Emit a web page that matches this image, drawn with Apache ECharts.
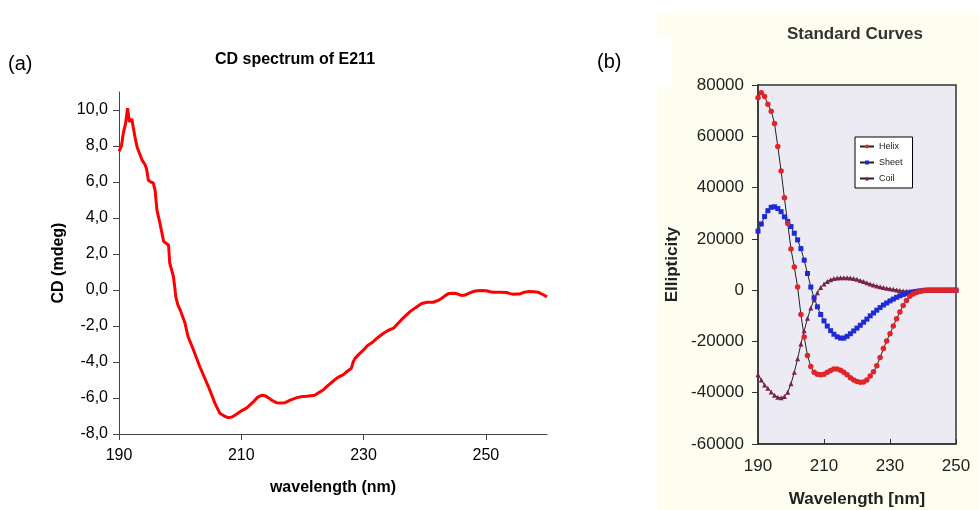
<!DOCTYPE html>
<html>
<head>
<meta charset="utf-8">
<script src="https://cdn.jsdelivr.net/npm/echarts@6/dist/echarts.min.js"></script>
<style>
html,body{margin:0;padding:0;background:#fff;}
#chart{width:979px;height:510px;}
</style>
</head>
<body>
<div id="chart"></div>
<script>
// ---- Panel (a): CD spectrum of E211 ----
const cdWavelength = [190.0,190.4,190.7,191.1,191.4,191.7,192.1,192.3,192.7,193.0,193.3,193.8,194.2,194.5,194.8,195.2,195.6,195.9,196.2,196.7,197.3,197.7,198.1,198.3,198.9,199.1,199.3,199.6,200.0,200.8,201.3,202.2,203.2,204.6,205.7,206.5,207.2,207.9,208.5,209.2,210.1,210.9,212.0,212.7,213.3,213.9,214.4,215.1,215.8,216.5,217.1,218.0,219.1,220.0,220.7,222.0,222.7,223.4,224.2,225.0,225.8,226.7,227.4,228.0,228.3,228.6,229.3,230.0,230.6,231.3,232.3,233.2,234.0,234.9,235.5,236.2,236.9,237.6,238.5,239.5,240.4,241.4,242.2,242.8,243.4,243.9,244.6,245.2,246.0,246.6,247.1,247.8,248.5,249.3,250.1,250.7,251.2,252.3,253.4,254.0,254.5,255.0,255.6,256.3,256.9,257.8,258.6,259.3,260.0];
const cdMdeg = [7.7,8.0,8.7,9.3,10.1,9.35,9.5,9.1,8.35,7.9,8.0,7.2,7.0,6.75,6.1,6.0,5.95,5.55,4.45,3.7,2.7,2.6,2.5,1.5,0.75,0.2,-0.4,-0.8,-1.1,-1.85,-2.6,-3.35,-4.25,-5.35,-6.3,-6.85,-7.0,-7.1,-7.05,-6.9,-6.7,-6.55,-6.2,-5.95,-5.85,-5.88,-5.98,-6.15,-6.27,-6.28,-6.27,-6.12,-5.98,-5.92,-5.9,-5.85,-5.7,-5.55,-5.3,-5.07,-4.85,-4.7,-4.5,-4.35,-4.0,-3.8,-3.55,-3.33,-3.1,-2.95,-2.65,-2.42,-2.25,-2.12,-1.9,-1.65,-1.42,-1.2,-0.98,-0.75,-0.68,-0.68,-0.58,-0.46,-0.3,-0.2,-0.18,-0.2,-0.3,-0.28,-0.2,-0.1,-0.04,-0.03,-0.04,-0.1,-0.13,-0.13,-0.14,-0.2,-0.24,-0.22,-0.22,-0.12,-0.09,-0.1,-0.13,-0.25,-0.38];
const cdXTicks = [190,210,230,250];
const cdYTicks = [-8,-6,-4,-2,0,2,4,6,8,10];

// ---- Panel (b): Standard Curves ----
const stdWavelength = [190,191,192,193,194,195,196,197,198,199,200,201,202,203,204,205,206,207,208,209,210,211,212,213,214,215,216,217,218,219,220,221,222,223,224,225,226,227,228,229,230,231,232,233,234,235,236,237,238,239,240,241,242,243,244,245,246,247,248,249,250];
const helix = [75000,77000,75500,72500,69800,65000,56000,46500,36000,26000,16000,9000,1200,-9500,-18300,-25500,-29800,-32000,-32800,-33000,-32800,-32000,-31300,-30800,-30800,-31200,-32000,-33000,-34200,-35000,-35600,-35900,-35800,-35000,-33500,-31800,-29500,-26300,-22800,-19800,-17000,-14000,-11200,-8500,-6000,-4000,-2400,-1500,-900,-500,-200,-100,0,0,0,0,0,0,0,0,0];
const sheet = [23000,25800,28700,31000,32300,32500,31800,30600,28600,26800,24800,22200,19600,16200,11700,6500,1200,-3000,-6500,-9500,-12000,-14000,-15800,-17200,-18200,-18700,-18700,-18000,-17000,-15900,-14800,-13700,-12500,-11300,-10000,-8900,-7800,-6800,-5800,-5000,-4200,-3500,-2800,-2200,-1700,-1300,-1000,-700,-500,-300,-100,0,0,0,0,0,0,0,0,0,0];
const coil = [-33000,-35000,-37000,-38300,-39700,-41000,-41800,-42000,-41500,-39800,-36500,-32000,-26800,-21000,-15800,-11000,-7000,-3700,-1000,1000,2400,3400,4100,4500,4700,4800,4800,4800,4700,4500,4200,3800,3400,2900,2400,2000,1600,1300,1000,700,500,300,100,-100,-300,-400,-400,-400,-300,-200,-100,0,0,0,0,0,0,0,0,0,0];
const stdXTicks = [190,210,230,250];
const seriesNames = ['Helix','Sheet','Coil'];

const FONT = '"Liberation Sans", Arial, sans-serif';
const zip = (xs, ys) => xs.map((x, i) => [x, ys[i]]);

const chart = echarts.init(document.getElementById('chart'), null, {renderer: 'canvas'});

const option = {
  animation: false,
  backgroundColor: '#ffffff',
  textStyle: {fontFamily: FONT},
  graphic: {
    elements: [
      {type: 'rect', z: -20, silent: true, shape: {x: 657, y: 14, width: 322, height: 496}, style: {fill: '#fdfdf0'}},
      {type: 'rect', z: -19, silent: true, shape: {x: 590, y: 38, width: 82, height: 49}, style: {fill: '#ffffff'}},
      {type: 'text', left: 8, top: 54, style: {text: '(a)', font: '20px ' + FONT, fill: '#000'}},
      {type: 'text', left: 597, top: 52, style: {text: '(b)', font: '20px ' + FONT, fill: '#000'}}
    ]
  },
  title: [
    {text: 'CD spectrum of E211', left: 295, top: 52, textAlign: 'center', padding: 0,
     textStyle: {fontFamily: FONT, fontSize: 16, fontWeight: 'bold', color: '#000'}},
    {text: 'Standard Curves', left: 855, top: 26, textAlign: 'center', padding: 0,
     textStyle: {fontFamily: FONT, fontSize: 17, fontWeight: 'bold', color: '#333'}}
  ],
  legend: {
    data: seriesNames,
    orient: 'vertical',
    left: 855, top: 137,
    padding: [5, 10, 5, 4],
    itemGap: 7,
    itemWidth: 14,
    itemHeight: 5,
    backgroundColor: '#ffffff',
    borderColor: '#000',
    borderWidth: 1,
    borderRadius: 0,
    textStyle: {fontFamily: FONT, fontSize: 9, color: '#222'}
  },
  grid: [
    {left: 119, top: 92, width: 428, height: 342, outerBoundsMode: 'none', containLabel: false},
    {left: 758, top: 85, width: 198, height: 359, outerBoundsMode: 'none', containLabel: false,
     show: true, backgroundColor: '#ecebf3', borderColor: '#333', borderWidth: 1.5}
  ],
  xAxis: [
    {gridIndex: 0, type: 'value', min: 190, max: 260,
     name: 'wavelength (nm)', nameLocation: 'middle', nameGap: 46,
     nameTextStyle: {fontFamily: FONT, fontSize: 16, fontWeight: 'bold', color: '#000'},
     axisLine: {show: true, onZero: false, lineStyle: {color: '#444', width: 1}},
     axisTick: {show: true, inside: false, length: 6, customValues: cdXTicks, lineStyle: {color: '#444'}},
     axisLabel: {show: true, customValues: cdXTicks, margin: 14, fontFamily: FONT, fontSize: 16, color: '#000',
       formatter: v => String(v)},
     splitLine: {show: false}},
    {gridIndex: 1, type: 'value', min: 190, max: 250,
     name: 'Wavelength [nm]', nameLocation: 'middle', nameGap: 47,
     nameTextStyle: {fontFamily: FONT, fontSize: 17, fontWeight: 'bold', color: '#222'},
     axisLine: {show: true, onZero: false, lineStyle: {color: '#333', width: 1.5}},
     axisTick: {show: true, inside: true, length: 5, customValues: stdXTicks, lineStyle: {color: '#333'}},
     axisLabel: {show: true, customValues: stdXTicks, margin: 14, fontFamily: FONT, fontSize: 17, color: '#222',
       formatter: v => String(v)},
     splitLine: {show: false}}
  ],
  yAxis: [
    {gridIndex: 0, type: 'value', min: -8, max: 11,
     name: 'CD (mdeg)', nameLocation: 'middle', nameGap: 52, nameRotate: 90,
     nameTextStyle: {fontFamily: FONT, fontSize: 16, fontWeight: 'bold', color: '#000'},
     axisLine: {show: true, onZero: false, lineStyle: {color: '#444', width: 1}},
     axisTick: {show: true, inside: false, length: 6, customValues: cdYTicks, lineStyle: {color: '#444'}},
     axisLabel: {show: true, customValues: cdYTicks, margin: 11, fontFamily: FONT, fontSize: 16, color: '#000',
       formatter: v => v.toFixed(1).replace('.', ',')},
     splitLine: {show: false}},
    {gridIndex: 1, type: 'value', min: -60000, max: 80000, interval: 20000,
     name: 'Ellipticity', nameLocation: 'middle', nameGap: 77, nameRotate: 90,
     nameTextStyle: {fontFamily: FONT, fontSize: 17, fontWeight: 'bold', color: '#222'},
     axisLine: {show: true, onZero: false, lineStyle: {color: '#333', width: 1.5}},
     axisTick: {show: true, inside: false, length: 6, lineStyle: {color: '#333'}},
     axisLabel: {show: true, margin: 14, fontFamily: FONT, fontSize: 17, color: '#222',
       formatter: v => String(v)},
     splitLine: {show: false}}
  ],
  series: [
    {name: 'CD', type: 'line', xAxisIndex: 0, yAxisIndex: 0, data: zip(cdWavelength, cdMdeg),
     showSymbol: false, symbol: 'none', smooth: false,
     lineStyle: {color: '#ff0000', width: 3}, itemStyle: {color: '#ff0000'},
     emphasis: {disabled: true}, silent: true},
    {name: 'Coil', type: 'line', xAxisIndex: 1, yAxisIndex: 1, data: zip(stdWavelength, coil),
     symbol: 'triangle', symbolSize: 5, showSymbol: true,
     lineStyle: {color: '#222', width: 1}, itemStyle: {color: '#7a2245'},
     emphasis: {disabled: true}, silent: true},
    {name: 'Sheet', type: 'line', xAxisIndex: 1, yAxisIndex: 1, data: zip(stdWavelength, sheet),
     symbol: 'rect', symbolSize: 5, showSymbol: true,
     lineStyle: {color: '#222', width: 1}, itemStyle: {color: '#1f2ad6'},
     emphasis: {disabled: true}, silent: true},
    {name: 'Helix', type: 'line', xAxisIndex: 1, yAxisIndex: 1, data: zip(stdWavelength, helix),
     symbol: 'circle', symbolSize: 5.5, showSymbol: true,
     lineStyle: {color: '#222', width: 1}, itemStyle: {color: '#e0242a'},
     emphasis: {disabled: true}, silent: true}
  ]
};
chart.setOption(option);
</script>
</body>
</html>
